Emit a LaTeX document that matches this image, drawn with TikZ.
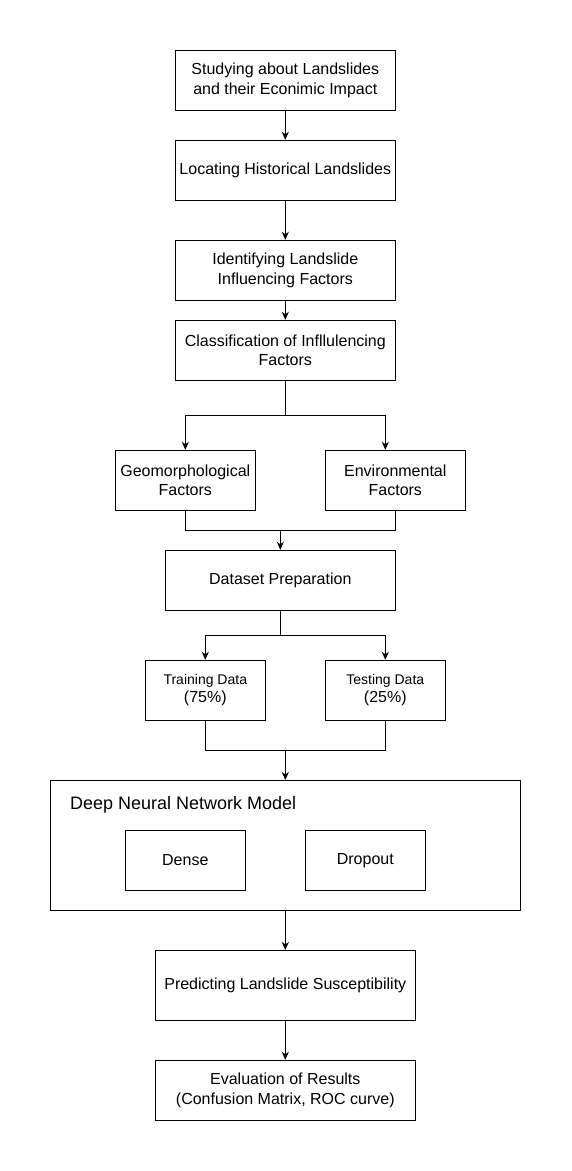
\documentclass[tikz,border=0pt]{standalone}
\usepackage{fontspec}
\setmainfont{Liberation Sans}
\usetikzlibrary{arrows.meta,calc}
\begin{document}
\begin{tikzpicture}[x=1pt,y=-1pt,
  box/.style={draw=black,line width=1pt,rectangle,inner sep=2pt,align=center,
    font=\fontsize{16}{19.3}\selectfont},
  arr/.style={line width=1pt,-{Stealth[length=8pt,width=7pt,inset=2.5pt]}},
  ln/.style={line width=1pt}]
\fill[white] (0,0) rectangle (571,1171);
\useasboundingbox (0,0) rectangle (571,1171);
\node[box,minimum width=220,minimum height=60] (b1) at (285.3,80.5) {Studying about Landslides\\and their Econimic Impact};
\node[box,minimum width=220,minimum height=60] (b2) at (285.3,170.3) {Locating Historical Landslides};
\node[box,minimum width=220,minimum height=60] (b3) at (285.3,270.3) {Identifying Landslide\\Influencing Factors};
\node[box,minimum width=220,minimum height=60] (b4) at (285.3,350.3) {Classification of Infllulencing\\Factors};
\node[box,minimum width=140,minimum height=60] (geo) at (185.3,480.3) {Geomorphological\\Factors};
\node[box,minimum width=140,minimum height=60] (env) at (395.3,480.3) {Environmental\\Factors};
\node[box,minimum width=230,minimum height=60] (ds) at (280.3,580.3) {Dataset Preparation};
\node[box,minimum width=120,minimum height=60,font=\fontsize{16}{18}\selectfont] (train) at (205.3,690.3) {{\fontsize{14}{18}\selectfont Training Data}\\(75\%)};
\node[box,minimum width=120,minimum height=60,font=\fontsize{16}{18}\selectfont] (test) at (385.3,690.3) {{\fontsize{14}{18}\selectfont Testing Data}\\(25\%)};
\node[box,minimum width=470,minimum height=130] (dnn) at (285.3,845.5) {};
\node[anchor=west,inner sep=0pt,font=\fontsize{18}{21}\selectfont] (dnnt) at (70,805) {Deep Neural Network Model};
\node[box,minimum width=120,minimum height=60] (dense) at (185.3,860.5) {Dense};
\node[box,minimum width=120,minimum height=60] (drop) at (365.3,860.5) {Dropout};
\node[box,minimum width=260,minimum height=70] (pred) at (285.3,985.5) {Predicting Landslide Susceptibility};
\node[box,minimum width=260,minimum height=60] (eval) at (285.3,1090.3) {Evaluation of Results\\(Confusion Matrix, ROC curve)};
% connectors
\draw[arr] (b1) -- (b2);
\draw[arr] (b2) -- (b3);
\draw[arr] (b3) -- (b4);
\coordinate (s1) at (285.3,415);
\draw[ln] (b4.south) -- (s1);
\draw[arr] (s1) -| (geo.north);
\draw[arr] (s1) -| ([xshift=-10pt]env.north);
\coordinate (m1) at (280.3,530.3);
\draw[ln] (geo.south) |- (m1) -| (env.south);
\draw[arr] (m1) -- (ds.north);
\coordinate (s2) at (280.3,635);
\draw[ln] (ds.south) -- (s2);
\draw[arr] (s2) -| (train.north);
\draw[arr] (s2) -| (test.north);
\coordinate (m2) at (285.3,750);
\draw[ln] (train.south) |- (m2) -| (test.south);
\draw[arr] (m2) -- (dnn.north);
\draw[arr] (dnn.south) -- (pred.north);
\draw[arr] (pred) -- (eval);
\end{tikzpicture}
\end{document}
